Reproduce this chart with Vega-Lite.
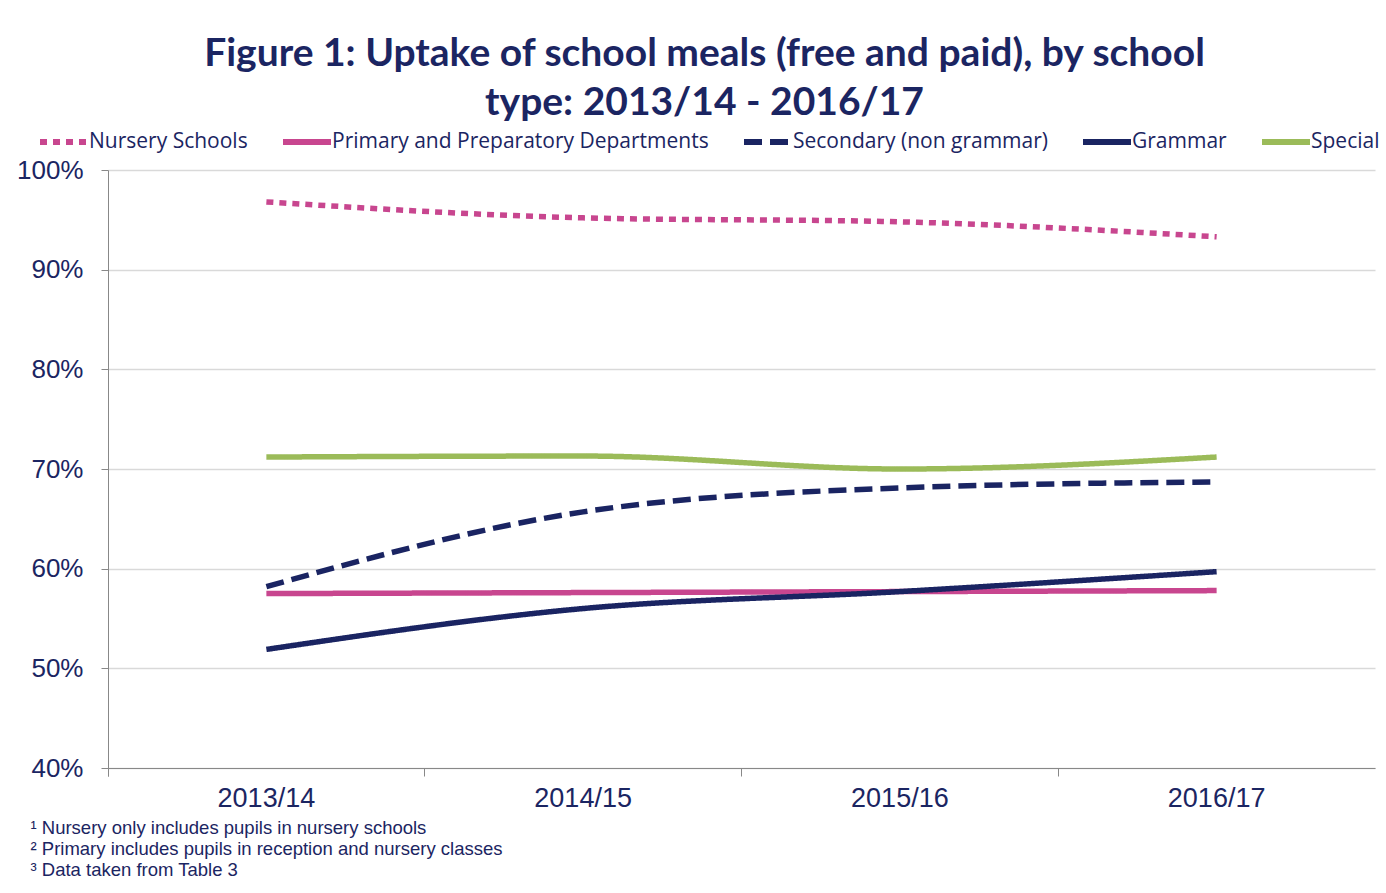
{
  "$schema": "https://vega.github.io/schema/vega-lite/v6.json",
  "width": 1267,
  "height": 598,
  "autosize": "none",
  "padding": {"left": 108, "top": 170, "right": 11, "bottom": 125},
  "background": "white",
  "title": {
    "text": ["Figure 1: Uptake of school meals (free and paid), by school", "type: 2013/14 - 2016/17"],
    "font": "Lato",
    "fontSize": 39,
    "fontWeight": "bold",
    "color": "#1b2562",
    "anchor": "middle",
    "dx": -37,
    "lineHeight": 49,
    "offset": -8
  },
  "data": {
    "values": [
      {"year": "2013/14", "type": "Nursery Schools", "value": 0.968},
      {"year": "2014/15", "type": "Nursery Schools", "value": 0.952},
      {"year": "2015/16", "type": "Nursery Schools", "value": 0.948},
      {"year": "2016/17", "type": "Nursery Schools", "value": 0.933},
      {"year": "2013/14", "type": "Primary and Preparatory Departments", "value": 0.575},
      {"year": "2014/15", "type": "Primary and Preparatory Departments", "value": 0.576},
      {"year": "2015/16", "type": "Primary and Preparatory Departments", "value": 0.577},
      {"year": "2016/17", "type": "Primary and Preparatory Departments", "value": 0.578},
      {"year": "2013/14", "type": "Secondary (non grammar)", "value": 0.582},
      {"year": "2014/15", "type": "Secondary (non grammar)", "value": 0.657},
      {"year": "2015/16", "type": "Secondary (non grammar)", "value": 0.681},
      {"year": "2016/17", "type": "Secondary (non grammar)", "value": 0.687},
      {"year": "2013/14", "type": "Grammar", "value": 0.519},
      {"year": "2014/15", "type": "Grammar", "value": 0.560},
      {"year": "2015/16", "type": "Grammar", "value": 0.577},
      {"year": "2016/17", "type": "Grammar", "value": 0.597},
      {"year": "2013/14", "type": "Special", "value": 0.712},
      {"year": "2014/15", "type": "Special", "value": 0.713},
      {"year": "2015/16", "type": "Special", "value": 0.700},
      {"year": "2016/17", "type": "Special", "value": 0.712}
    ]
  },
  "mark": {"type": "line", "interpolate": "monotone", "strokeWidth": 5.5, "strokeCap": "butt"},
  "encoding": {
    "x": {
      "field": "year",
      "type": "ordinal",
      "scale": {"type": "band", "paddingInner": 0, "paddingOuter": 0},
      "axis": {
        "title": ["¹ Nursery only includes pupils in nursery schools", "² Primary includes pupils in reception and nursery classes", "³ Data taken from Table 3"],
        "titleFont": "Liberation Sans",
        "titleFontSize": 18.5,
        "titleFontWeight": "normal",
        "titleColor": "#1b2562",
        "titleAnchor": "start",
        "titleAlign": "left",
        "titleBaseline": "top",
        "titleLineHeight": 21,
        "titleX": -78,
        "titleY": 50,
        "labelAngle": 0,
        "labelFont": "Liberation Sans",
        "labelFontSize": 27,
        "labelColor": "#1b2562",
        "labelPadding": 9,
        "bandPosition": 0,
        "tickExtra": true,
        "tickSize": 8,
        "tickColor": "#888888",
        "domainColor": "#888888",
        "grid": false
      }
    },
    "y": {
      "field": "value",
      "type": "quantitative",
      "scale": {"domain": [0.4, 1.0]},
      "axis": {
        "title": null,
        "values": [0.4, 0.5, 0.6, 0.7, 0.8, 0.9, 1.0],
        "format": ".0%",
        "labelFont": "Liberation Sans",
        "labelFontSize": 26,
        "labelColor": "#1b2562",
        "labelPadding": 18,
        "tickSize": 7,
        "tickColor": "#888888",
        "domainColor": "#888888",
        "gridColor": "#d9d9d9",
        "gridWidth": 1.5
      }
    },
    "color": {
      "field": "type",
      "type": "nominal",
      "scale": {
        "domain": ["Nursery Schools", "Primary and Preparatory Departments", "Secondary (non grammar)", "Grammar", "Special"],
        "range": ["#c8468f", "#c8468f", "#1a2462", "#1a2462", "#9bbb59"]
      },
      "legend": {
        "title": null,
        "orient": "none",
        "legendX": -71,
        "legendY": -55,
        "direction": "horizontal",
        "symbolType": "stroke",
        "symbolSize": 2304,
        "symbolStrokeWidth": 6,
        "labelFont": "Open Sans",
        "labelFontSize": 21,
        "labelColor": "#1b2562",
        "labelOffset": -2,
        "columnPadding": 23,
        "labelLimit": 600
      }
    },
    "strokeDash": {
      "field": "type",
      "type": "nominal",
      "scale": {
        "domain": ["Nursery Schools", "Primary and Preparatory Departments", "Secondary (non grammar)", "Grammar", "Special"],
        "range": [[7, 6], [1, 0], [18, 8], [1, 0], [1, 0]]
      }
    },
    "order": {"field": "year"}
  },
  "config": {
    "view": {"stroke": null}
  }
}
